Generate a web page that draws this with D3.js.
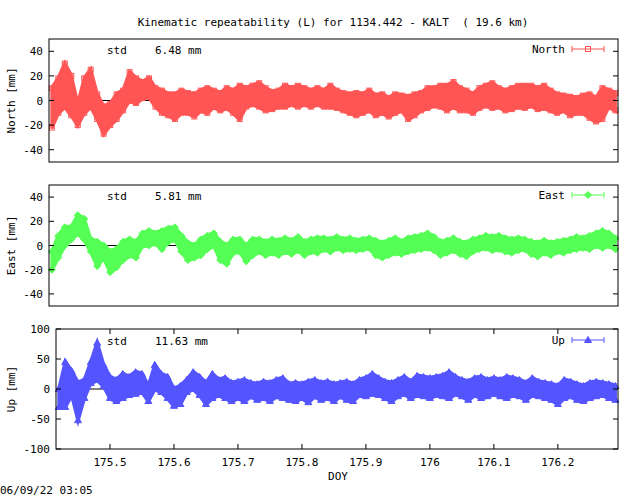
<!DOCTYPE html>
<html><head><meta charset="utf-8">
<script src="https://cdn.jsdelivr.net/npm/d3@7"></script>
<style>body{margin:0;background:#fff}text{font-family:"DejaVu Sans Mono",monospace;font-size:11px;white-space:pre}</style>
</head><body>
<svg id="c" width="640" height="496"></svg>
<script>
const doyStart = 175.42, doyStep = 0.01;
const northLo=[-22,-10,-5,-12,-20,-10,-5,-15,-27,-20,-15,-8,0,-2,2,3,-5,-10,-12,-15,-10,-10,-13,-8,-10,-5,-8,-6,-10,-15,-5,-3,-5,-8,-7,-5,-5,-3,-5,-3,-5,-3,-5,-5,-6,-8,-10,-12,-10,-8,-12,-10,-13,-10,-8,-15,-12,-8,-6,-4,-5,-8,-5,-8,-8,-10,-6,-4,-6,-5,-8,-7,-5,-6,-4,-7,-6,-8,-10,-8,-12,-10,-10,-14,-17,-15,-5,-8];
const northHi=[10,18,30,20,-3,18,25,5,-5,-3,5,8,23,18,15,18,10,8,5,5,8,6,5,8,10,8,6,10,8,12,10,12,14,10,7,8,12,10,12,10,8,10,8,12,8,6,5,6,5,8,4,5,2,5,4,3,5,6,10,10,12,12,15,10,8,5,10,12,14,10,8,10,12,12,12,10,12,8,5,4,3,2,4,5,2,10,8,6];
const eastLo=[-20,-10,0,5,10,5,-5,-17,-10,-22,-18,-12,-8,-10,0,0,2,-3,3,5,-5,-12,-10,-8,-3,0,-12,-15,-6,-5,-13,-8,-5,-8,-6,-8,-5,-7,-4,-8,-5,-6,-3,-5,-2,-4,-3,-4,-3,-2,-8,-10,-8,-6,-7,-5,-4,-3,-2,-4,-8,-6,-4,-7,-9,-5,-3,-2,-4,-3,-5,-6,-4,-3,-7,-9,-6,-8,-5,-6,-4,-3,-2,-3,0,-2,0,-3];
const eastHi=[-5,8,15,15,25,22,5,3,0,-5,-3,3,5,3,10,12,10,12,14,15,8,2,0,5,8,10,3,0,5,5,0,5,5,3,5,4,6,4,7,3,5,6,6,5,7,5,6,4,5,6,4,2,4,6,3,6,7,8,10,7,3,4,6,3,2,5,6,8,7,8,6,5,6,5,3,2,4,2,3,4,5,7,6,8,10,12,10,6];
const upLo=[-30,-30,-10,-52,-15,10,15,5,-15,-20,-15,-10,-8,-5,-20,0,-5,-15,-28,-25,-5,0,-10,-25,-15,-10,-15,-20,-15,-20,-12,-18,-15,-20,-12,-15,-18,-20,-15,-22,-12,-18,-15,-20,-12,-18,-20,-10,-12,-8,-10,-15,-20,-12,-8,-15,-10,-12,-15,-10,-12,-15,-8,-12,-18,-10,-15,-12,-8,-12,-15,-10,-12,-18,-10,-12,-15,-18,-25,-15,-12,-18,-20,-15,-12,-10,-15,-18];
const upHi=[0,45,30,10,15,45,77,40,20,15,25,20,28,25,5,40,25,20,0,5,15,28,20,10,25,15,18,10,12,15,10,8,12,10,15,18,8,10,8,12,15,10,12,8,10,12,8,15,18,25,18,12,10,15,20,12,22,20,18,20,22,28,20,15,12,18,20,15,18,15,20,18,15,10,18,12,10,8,5,15,12,8,5,10,12,10,8,5];
const panelNames=["North","East","Up"];
const stdValues=["6.48","5.81","11.63"];
const yTicks=[[-40,-20,0,20,40],[-40,-20,0,20,40],[-100,-50,0,50,100]];
const xTicks=[175.5,175.6,175.7,175.8,175.9,176,176.1,176.2];
const xTickLabels=["175.5","175.6","175.7","175.8","175.9","176","176.1","176.2"];

const svg=d3.select("#c");
svg.append("rect").attr("width",640).attr("height",496).attr("fill","#fff");
svg.append("text").attr("x",333).attr("y",26).attr("text-anchor","middle").text("Kinematic repeatability (L) for 1134.442 - KALT  ( 19.6 km)");
const panels=[
 {lo:northLo,hi:northHi,col:"#ff5555",l:49,t:39,b:162,dom:[-50,50],mk:"sq",ly:49,sy:54},
 {lo:eastLo,hi:eastHi,col:"#55ff55",l:49,t:185,b:306,dom:[-50,50],mk:"di",ly:195,sy:200},
 {lo:upLo,hi:upHi,col:"#5555ff",l:56,t:329,b:449,dom:[-100,100],mk:"tr",ly:340,sy:345}];
const R=618, x0=175.4156, x1=176.294;
function marker(g,x,y,p){
  let s;
  if(p.mk==="sq") s=g.append("rect").attr("x",x-2.5).attr("y",y-2.5).attr("width",5).attr("height",5).attr("fill","none");
  else if(p.mk==="di") s=g.append("path").attr("d",`M${x},${y-3.5}L${x+3.5},${y}L${x},${y+3.5}L${x-3.5},${y}Z`).attr("fill",p.col);
  else s=g.append("path").attr("d",`M${x},${y-3.5}L${x+3.5},${y+2.5}L${x-3.5},${y+2.5}Z`).attr("fill",p.col);
  s.attr("stroke",p.col).attr("stroke-width",1);
}
panels.forEach((p,k)=>{
  const x=d3.scaleLinear().domain([x0,x1]).range([p.l,R]);
  const y=d3.scaleLinear().domain(p.dom).range([p.b,p.t]);
  const g=svg.append("g");
  const data=p.lo.map((v,i)=>({d:doyStart+i*doyStep,lo:v,hi:p.hi[i]}));
  g.append("line").attr("x1",p.l).attr("x2",R).attr("y1",y(0)).attr("y2",y(0)).attr("stroke","#000");
  const area=d3.area().x(d=>x(d.d)).y0(d=>y(d.lo)+1).y1(d=>y(d.hi)-1);
  g.append("path").attr("d",area(data)).attr("fill",p.col).attr("stroke",p.col).attr("stroke-width",3);
  data.forEach(d=>{
    const cx=x(d.d);
    marker(g,cx,y(d.hi),p);marker(g,cx,y(d.lo),p);
  });
  g.append("rect").attr("x",p.l).attr("y",p.t).attr("width",R-p.l).attr("height",p.b-p.t).style("fill","none").attr("stroke","#000");
  yTicks[k].forEach(t=>{
    g.append("line").attr("x1",p.l).attr("x2",p.l+5).attr("y1",y(t)).attr("y2",y(t)).attr("stroke","#000");
    g.append("line").attr("x1",R-5).attr("x2",R).attr("y1",y(t)).attr("y2",y(t)).attr("stroke","#000");
    g.append("text").attr("x",p.l-6).attr("y",y(t)+4).attr("text-anchor","end").text(t);
  });
  if(k===2){
    xTicks.forEach((t,i)=>{
      g.append("line").attr("x1",x(t)).attr("x2",x(t)).attr("y1",p.b).attr("y2",p.b-5).attr("stroke","#000");
      g.append("line").attr("x1",x(t)).attr("x2",x(t)).attr("y1",p.t).attr("y2",p.t+5).attr("stroke","#000");
      g.append("text").attr("x",x(t)).attr("y",p.b+17).attr("text-anchor","middle").text(xTickLabels[i]);
    });
  }
  g.append("text").attr("transform",`translate(15,${(p.t+p.b)/2}) rotate(-90)`).attr("text-anchor","middle").text(panelNames[k]+" [mm]");
  g.append("text").attr("x",107).attr("y",p.sy).text("std");
  g.append("text").attr("x",155).attr("y",p.sy).text(stdValues[k]+" mm");
  g.append("text").attr("x",565).attr("y",p.ly+4).attr("text-anchor","end").text(panelNames[k]);
  g.append("line").attr("x1",572).attr("x2",604).attr("y1",p.ly).attr("y2",p.ly).attr("stroke",p.col);
  [572,604].forEach(v=>g.append("line").attr("x1",v).attr("x2",v).attr("y1",p.ly-3).attr("y2",p.ly+3).attr("stroke",p.col));
  marker(g,588,p.ly,p);
});
svg.append("text").attr("x",338).attr("y",480).attr("text-anchor","middle").text("DOY");
svg.append("text").attr("x",0).attr("y",494).text("06/09/22 03:05");
</script></body></html>
